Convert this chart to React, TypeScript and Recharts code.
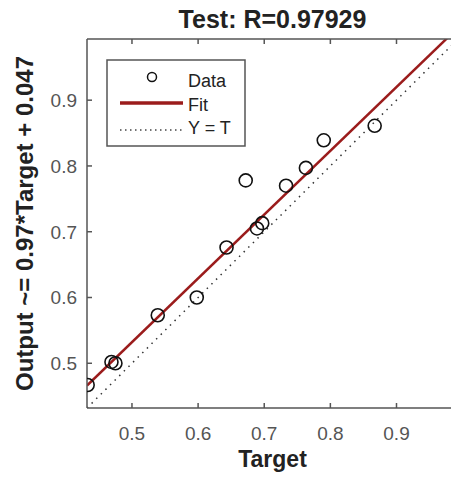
import { ScatterChart, Scatter, XAxis, YAxis, ReferenceLine, Legend } from 'recharts';

// values
const tickValues = [0.5, 0.6, 0.7, 0.8, 0.9];
const targets = [0.433, 0.469, 0.475, 0.539, 0.598, 0.643, 0.672, 0.689, 0.697, 0.733, 0.763, 0.790, 0.867];
const outputs = [0.467, 0.502, 0.500, 0.573, 0.600, 0.676, 0.778, 0.705, 0.713, 0.770, 0.797, 0.839, 0.861];
const fitSlope = 0.97;
const fitIntercept = 0.047;
const axisLimits = [0.432, 0.993];
const legendLabels = ['Data', 'Fit', 'Y = T'];

const points = targets.map((t, i) => ({ target: t, output: outputs[i] }));

const font = '"Liberation Sans", Arial, Helvetica, sans-serif';
const axisColor = '#555';
const labelColor = '#222';
const fitColor = '#9b1c1c';

const BottomTick = ({ x, y, payload }: any) => (
  <g>
    <line x1={x} y1={y} x2={x} y2={y - 5} stroke={axisColor} strokeWidth={1.5} />
    <text x={x} y={y + 32} textAnchor="middle" fontSize={19} fill="#555" fontFamily={font}>
      {Number(payload.value).toFixed(1)}
    </text>
  </g>
);

const TopTick = ({ x, y }: any) => (
  <line x1={x} y1={y} x2={x} y2={y + 5} stroke={axisColor} strokeWidth={1.5} />
);

const LeftTick = ({ x, y, payload }: any) => (
  <g>
    <line x1={x} y1={y} x2={x + 5} y2={y} stroke={axisColor} strokeWidth={1.5} />
    <text x={x - 10} y={y + 7} textAnchor="end" fontSize={19} fill="#555" fontFamily={font}>
      {Number(payload.value).toFixed(1)}
    </text>
  </g>
);

const Circle = (props: any) => (
  <circle cx={props.cx} cy={props.cy} r={6.5} fill="none" stroke="#111" strokeWidth={1.6} />
);

const renderLegend = () => (
  <svg width={140} height={88}>
    <rect x={1} y={1} width={138} height={86} fill="#fff" stroke={axisColor} strokeWidth={1.5} />
    <circle cx={46} cy={18} r={4.5} fill="none" stroke="#111" strokeWidth={1.5} />
    <line x1={14} y1={44} x2={77} y2={44} stroke={fitColor} strokeWidth={3.5} />
    <line x1={14} y1={71} x2={77} y2={71} stroke="#444" strokeWidth={1.5} strokeDasharray="1.5 3.5" />
    {legendLabels.map((s, i) => (
      <text key={s} x={82} y={28 + i * 23.5} fontSize={18} fill={labelColor} fontFamily={font}>
        {s}
      </text>
    ))}
  </svg>
);

const renderTitle = ({ viewBox }: any) => (
  <text x={viewBox.x + viewBox.width / 2} y={28} textAnchor="middle" fontSize={25} fontWeight="bold" fill={labelColor} fontFamily={font}>
    Test: R=0.97929
  </text>
);

const renderXLabel = ({ viewBox }: any) => (
  <text x={viewBox.x + viewBox.width / 2} y={viewBox.y + 59} textAnchor="middle" fontSize={23} fontWeight="bold" fill={labelColor} fontFamily={font}>
    Target
  </text>
);

const renderYLabel = ({ viewBox }: any) => {
  const cy = viewBox.y + viewBox.height / 2;
  return (
    <text x={33} y={cy} transform={`rotate(-90 33 ${cy})`} textAnchor="middle" fontSize={24} fontWeight="bold" fill={labelColor} fontFamily={font}>
      Output ~= 0.97*Target + 0.047
    </text>
  );
};

export default function App() {
  const [lo, hi] = axisLimits;
  return (
    <div style={{ position: 'absolute', left: 0, top: 0, width: 451, height: 479, overflow: 'hidden', background: '#fff' }}>
      <ScatterChart width={470} height={479} margin={{ top: 0, right: 12, bottom: 0, left: 0 }}>
        <XAxis
          type="number"
          dataKey="target"
          domain={axisLimits}
          allowDataOverflow
          ticks={tickValues}
          height={71}
          tickSize={0}
          tickMargin={0}
          tickLine={false}
          tick={<BottomTick />}
          axisLine={{ stroke: axisColor, strokeWidth: 1.5 }}
          label={{ content: renderXLabel }}
        />
        <XAxis
          xAxisId="top"
          orientation="top"
          type="number"
          dataKey="target"
          domain={axisLimits}
          allowDataOverflow
          ticks={tickValues}
          height={39}
          tickSize={0}
          tickMargin={0}
          tickLine={false}
          tick={<TopTick />}
          axisLine={{ stroke: axisColor, strokeWidth: 1.5 }}
          label={{ content: renderTitle }}
        />
        <YAxis
          type="number"
          dataKey="output"
          domain={axisLimits}
          allowDataOverflow
          ticks={tickValues}
          width={87}
          tickSize={0}
          tickMargin={0}
          tickLine={false}
          tick={<LeftTick />}
          axisLine={{ stroke: axisColor, strokeWidth: 1.5 }}
          label={{ content: renderYLabel }}
        />
        <ReferenceLine
          segment={[{ x: lo, y: lo }, { x: hi, y: hi }]}
          stroke="#333"
          strokeWidth={1.5}
          strokeDasharray="1.5 5"
          ifOverflow="hidden"
        />
        <ReferenceLine
          segment={[
            { x: lo, y: fitSlope * lo + fitIntercept },
            { x: hi, y: fitSlope * hi + fitIntercept },
          ]}
          stroke={fitColor}
          strokeWidth={2.5}
          ifOverflow="hidden"
        />
        <Scatter name="Data" data={points} shape={<Circle />} isAnimationActive={false} />
        <Legend
          layout="vertical"
          align="center"
          verticalAlign="middle"
          content={renderLegend}
          wrapperStyle={{ left: 106, top: 59, width: 140, height: 88 }}
        />
      </ScatterChart>
    </div>
  );
}
